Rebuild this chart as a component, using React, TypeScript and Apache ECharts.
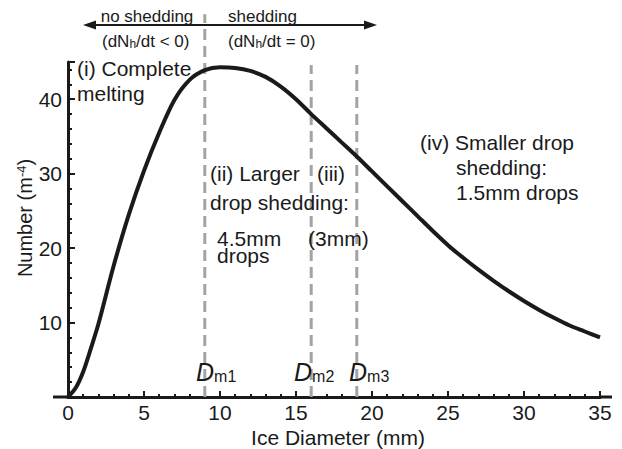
import React, { useEffect, useRef } from "react";
import * as echarts from "echarts";

// Ice diameter (mm) and number concentration (m^-4)
const diameters = [0, 0.5, 1, 1.5, 2, 3, 4, 5, 6, 7, 8, 9, 10, 11, 12, 13, 14, 15, 16, 17, 18, 19, 20, 21, 22, 23, 24, 25, 26, 27, 28, 29, 30, 31, 32, 33, 34, 35];
const numbers = [0, 1.2, 3.4, 6.5, 9.8, 17.6, 24.5, 30.4, 35.5, 39.9, 42.6, 43.9, 44.3, 44.2, 43.8, 43.0, 41.7, 40.0, 38.0, 36.1, 34.2, 32.3, 30.3, 28.3, 26.3, 24.3, 22.3, 20.4, 18.7, 17.1, 15.6, 14.2, 12.9, 11.7, 10.6, 9.6, 8.8, 8.0];

// Melting thresholds D_m1, D_m2, D_m3 (mm)
const meltDiameters = [9, 16, 19];
const meltNames = ["m1", "m2", "m3"];
// upper end of each dashed guide (in y units)
const guideTops = [51.4, 44.6, 44.6];

const xTickLabels = [0, 5, 10, 15, 20, 25, 30, 35];
const yTickLabels = [10, 20, 30, 40];

const FONT = "'Liberation Sans', Arial, Helvetica, sans-serif";
const INK = "#1a1a1a";
const GUIDE = "#a3a3a3";

function txt(x: number, y: number, text: string, size = 21, extra: any = {}) {
  return {
    type: "text",
    x,
    y,
    z: 10,
    style: {
      text,
      fill: INK,
      fontSize: size,
      fontFamily: FONT,
      align: "left",
      verticalAlign: "middle",
      ...extra,
    },
  };
}

export default function App() {
  const ref = useRef<HTMLDivElement>(null);

  useEffect(() => {
    if (!ref.current) return;
    const chart = echarts.init(ref.current, undefined, { renderer: "svg" });

    const guideSeries = meltDiameters.map((d, i) => ({
      type: "line",
      data: [
        [d, 0],
        [d, guideTops[i]],
      ],
      clip: false,
      symbol: "none",
      silent: true,
      z: 1,
      lineStyle: { color: GUIDE, width: 3, type: [11, 6] },
    }));

    const dLabelX = [196, 294, 349];
    const dLabels = meltNames.map((n, i) => ({
      type: "text",
      x: dLabelX[i],
      y: 370,
      z: 10,
      style: {
        text: `{d|D}{s|${n}}`,
        fill: INK,
        fontFamily: FONT,
        align: "left",
        verticalAlign: "middle",
        rich: {
          d: { fontSize: 25, fontStyle: "italic", fontFamily: FONT, fill: INK, lineHeight: 28, verticalAlign: "bottom" },
          s: { fontSize: 16, fontFamily: FONT, fill: INK, lineHeight: 22, verticalAlign: "bottom" },
        },
      },
    }));

    const richSub = {
      t: { fontSize: 17, fontFamily: FONT, fill: INK, lineHeight: 20, verticalAlign: "bottom" },
      s: { fontSize: 12, fontFamily: FONT, fill: INK, lineHeight: 10, verticalAlign: "bottom" },
    };

    chart.setOption({
      animation: false,
      backgroundColor: "#ffffff",
      grid: { left: 68, right: 22, top: 62, bottom: 52 },
      xAxis: {
        type: "value",
        min: 0,
        max: 35,
        interval: 5,
        axisLine: { show: true, lineStyle: { color: INK, width: 3 } },
        axisTick: { show: true, inside: true, length: 6, lineStyle: { color: INK, width: 2 } },
        minorTick: { show: true, splitNumber: 5, length: 3, lineStyle: { color: INK, width: 2 } },
        axisLabel: {
          color: INK,
          fontSize: 21,
          fontFamily: FONT,
          margin: 5,
          formatter: (v: number) => (xTickLabels.includes(v) ? String(v) : ""),
        },
        splitLine: { show: false },
      },
      yAxis: {
        type: "value",
        min: 0,
        max: 45,
        interval: 10,
        axisLine: { show: true, lineStyle: { color: INK, width: 3 } },
        axisTick: { show: true, inside: true, length: 7, lineStyle: { color: INK, width: 2 } },
        minorTick: { show: true, splitNumber: 5, length: 4, lineStyle: { color: INK, width: 2 } },
        axisLabel: {
          color: INK,
          fontSize: 21,
          fontFamily: FONT,
          margin: 6,
          showMaxLabel: false,
          formatter: (v: number) => (yTickLabels.includes(v) ? String(v) : ""),
        },
        splitLine: { show: false },
      },
      series: [
        ...guideSeries,
        {
          type: "line",
          data: diameters.map((d, i) => [d, numbers[i]]),
          smooth: 0.3,
          symbol: "none",
          z: 3,
          lineStyle: { color: INK, width: 4 },
        },
      ],
      graphic: {
        elements: [
          // axis line extensions
          { type: "line", z: 5, shape: { x1: 53, y1: 397, x2: 69, y2: 397 }, style: { stroke: INK, lineWidth: 3 } },
          { type: "line", z: 5, shape: { x1: 599, y1: 397, x2: 612, y2: 397 }, style: { stroke: INK, lineWidth: 3 } },
          // double arrow
          { type: "line", z: 5, shape: { x1: 92, y1: 25, x2: 368, y2: 25 }, style: { stroke: INK, lineWidth: 2 } },
          { type: "polygon", z: 5, shape: { points: [[83, 25], [96, 20.5], [96, 29.5]] }, style: { fill: INK } },
          { type: "polygon", z: 5, shape: { points: [[377, 25], [364, 20.5], [364, 29.5]] }, style: { fill: INK } },
          txt(147, 16, "no shedding", 17, { align: "center" }),
          txt(228, 16, "shedding", 17),
          {
            type: "text", x: 102, y: 40, z: 10,
            style: { text: "{t|(dN}{s|h}{t|/dt < 0)}", fontFamily: FONT, fill: INK, align: "left", verticalAlign: "middle", rich: richSub },
          },
          {
            type: "text", x: 228, y: 40, z: 10,
            style: { text: "{t|(dN}{s|h}{t|/dt = 0)}", fontFamily: FONT, fill: INK, align: "left", verticalAlign: "middle", rich: richSub },
          },
          // region annotations
          txt(77, 68, "(i) Complete"),
          txt(77, 93, "melting"),
          txt(210, 173, "(ii) Larger"),
          txt(210, 202, "drop shedding:"),
          txt(217, 247, "4.5mm\ndrops", 21, { lineHeight: 17 }),
          txt(317, 173, "(iii)"),
          txt(308, 238, "(3mm)"),
          txt(420, 142, "(iv) Smaller drop"),
          txt(456, 167, "shedding:"),
          txt(456, 192, "1.5mm drops"),
          ...dLabels,
          // axis titles
          txt(338, 437, "Ice Diameter (mm)", 21, { align: "center" }),
          {
            type: "text",
            x: 27,
            y: 218,
            rotation: Math.PI / 2,
            z: 10,
            style: {
              text: "{t|Number (m}{p|-4}{t|)}",
              fontFamily: FONT,
              fill: INK,
              align: "center",
              verticalAlign: "middle",
              rich: {
                t: { fontSize: 20, fontFamily: FONT, fill: INK, lineHeight: 24, verticalAlign: "top" },
                p: { fontSize: 13, fontFamily: FONT, fill: INK, lineHeight: 14, verticalAlign: "top" },
              },
            },
          },
        ],
      },
    });

    return () => chart.dispose();
  }, []);

  return <div ref={ref} style={{ position: "fixed", left: 0, top: 0, width: 622, height: 449 }} />;
}
